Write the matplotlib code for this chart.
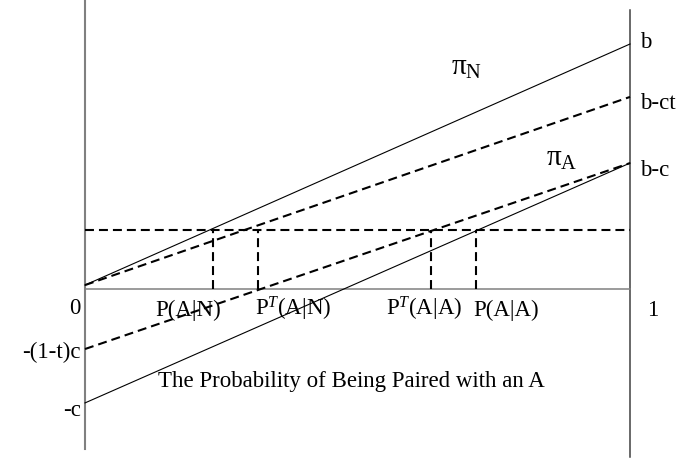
import matplotlib
matplotlib.use('Agg')
from matplotlib import pyplot as plt

plt.rcParams['font.family'] = 'Liberation Serif'
plt.rcParams['mathtext.fontset'] = 'custom'
plt.rcParams['mathtext.rm'] = 'Liberation Serif'
plt.rcParams['mathtext.it'] = 'Liberation Serif:italic'

# payoff lines, value at x=0 and at x=1 (b = 1)
x_end = [0, 1]
pi_N = [0.016, 1.0]
pi_N_taxed = [0.016, 0.784]
pi_A = [-0.465, 0.514]
pi_A_taxed = [-0.245, 0.514]

# reference payoff level and the probabilities where it is met
level = 0.241
cut_x = [0.235, 0.317, 0.635, 0.717]
cut_labels = ['P(A|N)', r'P$^{T}$(A|N)', r'P$^{T}$(A|A)', 'P(A|A)']
label_shift = [-0.046, 0.065, -0.013, 0.055]

left_ticks = [0, -0.245, -0.465]
left_labels = ['0', '-(1-t)c', '-c']
right_ticks = [1.0, 0.784, 0.514]
right_labels = ['b', 'b-ct', 'b-c']

fs = 16.5

fig = plt.figure(figsize=(6.93, 4.59), dpi=100)
ax = fig.add_axes([0, 0, 1, 1])
ax.set_xlim(-85 / 545, 608 / 545)
ax.set_ylim(-170 / 245, 289 / 245)
ax.axis('off')

dash = (0, (4.3, 2.4))

# axes frame
ax.plot([0, 0], [-0.653, 1.176], color='#808080', lw=1.5)
ax.plot([1, 1], [-0.686, 1.139], color='#404040', lw=1.1)
ax.plot([0, 1], [0, 0], color='#808080', lw=1.1)

ax.plot(x_end, pi_N, color='black', lw=0.8)
ax.plot(x_end, pi_A, color='black', lw=0.8)
ax.plot(x_end, pi_N_taxed, color='black', lw=1.5, linestyle=dash)
ax.plot(x_end, pi_A_taxed, color='black', lw=1.5, linestyle=dash)

ax.plot([0, 1], [level, level], color='black', lw=1.5, linestyle=dash)
for cx in cut_x:
    ax.plot([cx, cx], [0, level], color='black', lw=1.5, linestyle=dash)

for cx, lab, sh in zip(cut_x, cut_labels, label_shift):
    ax.text(cx + sh, -0.11, lab, ha='center', va='baseline', fontsize=fs)

left_offs = [-0.08, -0.012, -0.029]
for yv, lab, off in zip(left_ticks, left_labels, left_offs):
    ax.text(-0.008, yv + off, lab, ha='right', va='center', fontsize=fs)

right_offs = [0.008, -0.025, -0.032]
for yv, lab, off in zip(right_ticks, right_labels, right_offs):
    ax.text(1.018, yv + off, lab, ha='left', va='center', fontsize=fs)
ax.text(1.042, -0.11, '1', ha='center', va='baseline', fontsize=fs)

ax.text(0.701, 0.902, r'$\mathrm{π}_{\mathrm{N}}$', ha='center', va='center', fontsize=21)
ax.text(0.875, 0.531, r'$\mathrm{π}_{\mathrm{A}}$', ha='center', va='center', fontsize=21)

ax.text(0.488, -0.4, 'The Probability of Being Paired with an A',
        ha='center', va='baseline', fontsize=fs)

plt.savefig('out.png', dpi=100)
